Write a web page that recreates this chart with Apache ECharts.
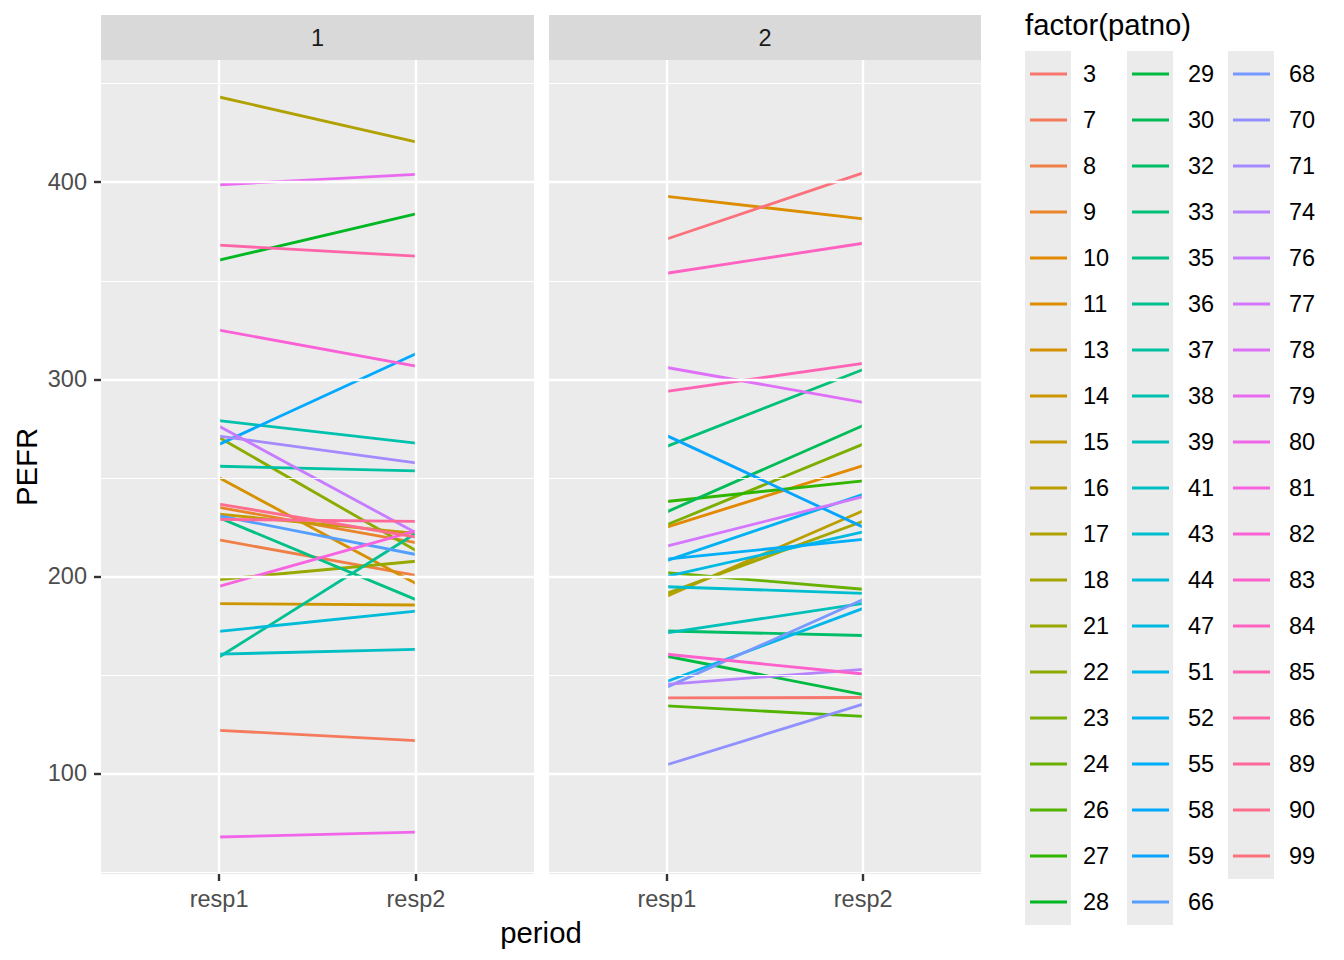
<!DOCTYPE html>
<html><head><meta charset="utf-8">
<script src="https://cdn.jsdelivr.net/npm/echarts@6/dist/echarts.min.js"></script>
<style>html,body{margin:0;padding:0;background:#fff}#c{width:1344px;height:960px}</style>
</head><body><div id="c"></div>
<script>
// ---------------- data ----------------
const periodLabels = ['resp1', 'resp2'];
const periodX = [1, 2];
const yTickValues = [100, 200, 300, 400];
const yMinorValues = [50, 150, 250, 350, 450];
const facetLabels = ['1', '2'];

const group1Patients = [7, 8, 9, 13, 14, 15, 17, 21, 22, 28, 35, 36, 37, 38, 41, 44, 58, 66, 71, 76, 79, 80, 81, 82, 86, 89, 90];
const group1Resp1 = [121.905, 218.500, 235.000, 250.000, 186.190, 231.563, 443.250, 198.421, 270.500, 360.476, 229.750, 159.091, 255.882, 279.048, 160.556, 172.105, 267.000, 230.750, 271.190, 276.250, 398.750, 67.778, 195.000, 325.000, 368.077, 228.947, 236.667];
const group1Resp2 = [116.667, 200.500, 217.143, 196.429, 185.500, 221.842, 420.500, 207.692, 213.158, 384.000, 188.250, 221.905, 253.571, 267.619, 163.000, 182.381, 313.000, 211.111, 257.619, 222.105, 404.000, 70.278, 223.158, 306.667, 362.500, 227.895, 220.000];

const group2Patients = [3, 10, 11, 16, 18, 23, 24, 26, 27, 29, 30, 32, 33, 39, 43, 47, 51, 52, 55, 59, 68, 70, 74, 77, 78, 83, 84, 85, 99];
const group2Resp1 = [138.333, 225.000, 392.857, 190.000, 191.429, 226.190, 201.905, 134.286, 238.000, 159.500, 232.750, 172.308, 266.000, 171.333, 194.737, 200.000, 146.667, 208.000, 208.750, 271.429, 143.810, 104.444, 145.238, 215.385, 306.000, 160.526, 353.810, 293.889, 371.190];
const group2Resp2 = [138.571, 256.250, 381.429, 233.333, 228.000, 267.143, 193.500, 128.947, 248.500, 140.000, 276.563, 170.000, 305.000, 186.333, 191.429, 222.619, 183.810, 241.667, 218.810, 225.000, 188.250, 135.238, 152.857, 240.476, 288.333, 150.476, 369.048, 308.095, 404.762];

// ---------------- styling helpers ----------------
const FONT = '"Liberation Sans", Arial, Helvetica, sans-serif';
const patientLevels = group1Patients.concat(group2Patients).sort((a, b) => a - b);

function hcl2hex(h, c, l) {
  const hr = h * Math.PI / 180;
  const U = c * Math.cos(hr), V = c * Math.sin(hr);
  const Xn = 95.047, Yn = 100, Zn = 108.883;
  const den = Xn + 15 * Yn + 3 * Zn;
  const un = 4 * Xn / den, vn = 9 * Yn / den;
  const Y = l > 7.999592 ? Yn * Math.pow((l + 16) / 116, 3) : Yn * l / 903.3;
  const u = U / (13 * l) + un, v = V / (13 * l) + vn;
  const X = 9 * Y * u / (4 * v);
  const Z = -X / 3 - 5 * Y + 3 * Y / v;
  const x = X / 100, y = Y / 100, z = Z / 100;
  const lin = [
    3.240479 * x - 1.537150 * y - 0.498535 * z,
    -0.969256 * x + 1.875992 * y + 0.041556 * z,
    0.055648 * x - 0.204043 * y + 1.057311 * z
  ];
  return '#' + lin.map(t => {
    let g = t <= 0.0031308 ? 12.92 * t : 1.055 * Math.pow(t, 1 / 2.4) - 0.055;
    g = Math.max(0, Math.min(1, g));
    return Math.round(g * 255).toString(16).padStart(2, '0');
  }).join('');
}
const nLev = patientLevels.length;
const palette = patientLevels.map((_, i) => hcl2hex((15 + 360 * i / nLev) % 360, 100, 65));

// ---------------- layout ----------------
const grids = [
  { left: 101, top: 60, width: 433, height: 814 },
  { left: 549, top: 60, width: 432, height: 814 }
];
const allVals = group1Resp1.concat(group1Resp2, group2Resp1, group2Resp2);
const dMin = Math.min.apply(null, allVals), dMax = Math.max.apply(null, allVals);
const yMin = dMin - 0.05 * (dMax - dMin), yMax = dMax + 0.05 * (dMax - dMin);

const tickLine = { color: '#333333', width: 2.4 };
const axisLabelBase = { color: '#4D4D4D', fontSize: 23.5, fontFamily: FONT };
const LINE_W = 2.85;

const series = [];
// gridline helper series
[0, 1].forEach(gi => {
  series.push({
    type: 'line', name: '_grid' + gi, xAxisIndex: gi, yAxisIndex: gi, data: [],
    silent: true, animation: false, z: 1,
    markLine: {
      silent: true, animation: false, symbol: ['none', 'none'], label: { show: false },
      emphasis: { disabled: true },
      lineStyle: { color: '#FFFFFF', type: 'solid' },
      data: yMinorValues.map(v => ({ yAxis: v, lineStyle: { width: 1.2, color: '#FFFFFF', type: 'solid' } }))
        .concat(yTickValues.map(v => ({ yAxis: v, lineStyle: { width: 2.4, color: '#FFFFFF', type: 'solid' } })))
        .concat(periodX.map(v => ({ xAxis: v, lineStyle: { width: 2.4, color: '#FFFFFF', type: 'solid' } })))
    }
  });
});

patientLevels.forEach((p, i) => {
  let gi, r1, r2, k = group1Patients.indexOf(p);
  if (k >= 0) { gi = 0; r1 = group1Resp1[k]; r2 = group1Resp2[k]; }
  else { k = group2Patients.indexOf(p); gi = 1; r1 = group2Resp1[k]; r2 = group2Resp2[k]; }
  series.push({
    type: 'line', name: String(p), xAxisIndex: gi, yAxisIndex: gi,
    data: [[periodX[0], r1], [periodX[1], r2]],
    symbol: 'none', showSymbol: false, silent: true, animation: false, z: 3,
    lineStyle: { width: LINE_W, color: palette[i] }, itemStyle: { color: palette[i] },
    emphasis: { disabled: true }
  });
});

const legendCols = [patientLevels.slice(0, 19), patientLevels.slice(19, 38), patientLevels.slice(38)];
const legendLeft = [1030, 1132, 1233];
const legendPad = [11, 14, 14];
const keyBoxX = [1025, 1127, 1228];

const graphics = [];
legendCols.forEach((col, ci) => {
  graphics.push({ type: 'rect', silent: true, z: 0, shape: { x: keyBoxX[ci], y: 51, width: 46, height: col.length * 46 }, style: { fill: '#EBEBEB' } });
});
grids.forEach((g, gi) => {
  graphics.push({ type: 'rect', silent: true, shape: { x: g.left, y: 15, width: g.width, height: 45 }, style: { fill: '#D9D9D9' } });
  graphics.push({ type: 'text', silent: true, x: g.left + g.width / 2, y: 38,
    style: { text: facetLabels[gi], fill: '#1A1A1A', fontSize: 23.5, fontFamily: FONT, align: 'center', verticalAlign: 'middle', textAlign: 'center', textVerticalAlign: 'middle' } });
});
graphics.push({ type: 'text', silent: true, x: 541, y: 932,
  style: { text: 'period', fill: '#000000', fontSize: 29.3, fontFamily: FONT, align: 'center', verticalAlign: 'middle', textAlign: 'center', textVerticalAlign: 'middle' } });
graphics.push({ type: 'text', silent: true, x: 26, y: 467, rotation: Math.PI / 2,
  style: { text: 'PEFR', fill: '#000000', fontSize: 29.3, fontFamily: FONT, align: 'center', verticalAlign: 'middle', textAlign: 'center', textVerticalAlign: 'middle' } });
graphics.push({ type: 'text', silent: true, x: 1025, y: 24,
  style: { text: 'factor(patno)', fill: '#000000', fontSize: 29.3, fontFamily: FONT, align: 'left', verticalAlign: 'middle', textAlign: 'left', textVerticalAlign: 'middle' } });

const option = {
  animation: false,
  backgroundColor: '#FFFFFF',
  grid: grids.map(g => Object.assign({ show: true, backgroundColor: '#EBEBEB', borderWidth: 0, containLabel: false }, g)),
  xAxis: [0, 1].map(gi => ({
    type: 'value', gridIndex: gi, min: 0.4, max: 2.6,
    axisLine: { show: false }, splitLine: { show: false }, minorSplitLine: { show: false },
    axisTick: { show: true, customValues: periodX, length: 7, lineStyle: tickLine },
    axisLabel: Object.assign({ customValues: periodX, margin: 13, formatter: v => periodLabels[periodX.indexOf(Math.round(v))] || '' }, axisLabelBase)
  })),
  yAxis: [0, 1].map(gi => ({
    type: 'value', gridIndex: gi, min: yMin, max: yMax,
    axisLine: { show: false }, splitLine: { show: false }, minorSplitLine: { show: false },
    axisTick: { show: gi === 0, customValues: yTickValues, length: 7, lineStyle: tickLine },
    axisLabel: Object.assign({ show: gi === 0, customValues: yTickValues, margin: 14, formatter: v => String(Math.round(v)) }, axisLabelBase)
  })),
  legend: legendCols.map((col, ci) => ({
    data: col.map(String), orient: 'vertical', left: legendLeft[ci], top: 62, padding: 0,
    icon: 'rect', itemWidth: 37, itemHeight: LINE_W, itemGap: 22, selectedMode: false,
    itemStyle: { borderWidth: 0 },
    textStyle: { fontSize: 23.5, color: '#000000', fontFamily: FONT, lineHeight: 24, padding: [0, 0, 0, legendPad[ci]] }
  })),
  graphic: graphics,
  series: series
};

const chart = echarts.init(document.getElementById('c'), null, { renderer: 'svg', width: 1344, height: 960 });
chart.setOption(option);
</script></body></html>
